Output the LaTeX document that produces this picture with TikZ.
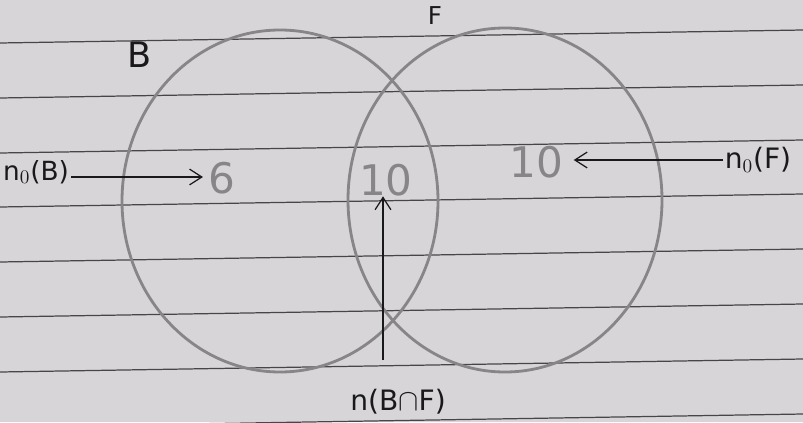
\documentclass[tikz,border=0pt]{standalone}
\usepackage{fontspec}
\setmainfont{DejaVu Sans}
\usetikzlibrary{arrows.meta}
\definecolor{paper}{RGB}{216,213,216}
\definecolor{ruling}{RGB}{70,70,72}
\definecolor{pencil}{RGB}{135,133,136}
\definecolor{ink}{RGB}{25,25,28}
\tikzset{
  setring/.style={draw=pencil, line width=1.6pt},
  pencilnum/.style={text=pencil, font=\fontsize{24}{26}\selectfont, inner sep=0pt},
  inklabel/.style={text=ink, font=\fontsize{16}{18}\selectfont, inner sep=1pt},
  pointer/.style={draw=ink, line width=0.7pt, -{Straight Barb[length=7pt,width=9pt]}},
  rule/.style={draw=ruling, line width=0.7pt}
}
\begin{document}
\begin{tikzpicture}[x=0.02cm,y=-0.02cm]
\fill[paper] (0,0) rectangle (803,422);
\useasboundingbox (0,0) rectangle (803,422);
% ruled lines of the paper
\foreach \yl in {-12,43,98,153,207,262,317,372,427}
  \draw[rule] (0,\yl) -- (803,\yl-13);
% sets
\draw[setring] (280,201) ellipse [x radius=158, y radius=171];
\draw[setring] (505,200) ellipse [x radius=157, y radius=172];
% set names
\node[inklabel, font=\fontsize{20}{22}\selectfont] (lB) at (140,55) {B};
\node[inklabel, font=\fontsize{14}{16}\selectfont] (lF) at (435,16) {F};
% counts
\node[pencilnum] (six) at (222,178) {6};
\node[pencilnum] (mid) at (386,180) {10};
\node[pencilnum] (rgt) at (536,162) {10};
% labels
\node[inklabel, font=\fontsize{15}{17}\selectfont] (nB) at (36,172) {n$_0$(B)};
\node[inklabel] (nF) at (758,160) {n$_0$(F)};
\node[inklabel] (nBF) at (398,402) {n(B$\cap$F)};
\coordinate (upend) at (383,360);
% pointers
\draw[pointer] (nB.east |- 0,177) -- ([xshift=-3pt]six.west |- 0,177);
\draw[pointer] (nF.west) -- ([xshift=6pt]rgt.east |- nF.west);
\draw[pointer] (upend) -- (mid.south -| upend);
\end{tikzpicture}
\end{document}
